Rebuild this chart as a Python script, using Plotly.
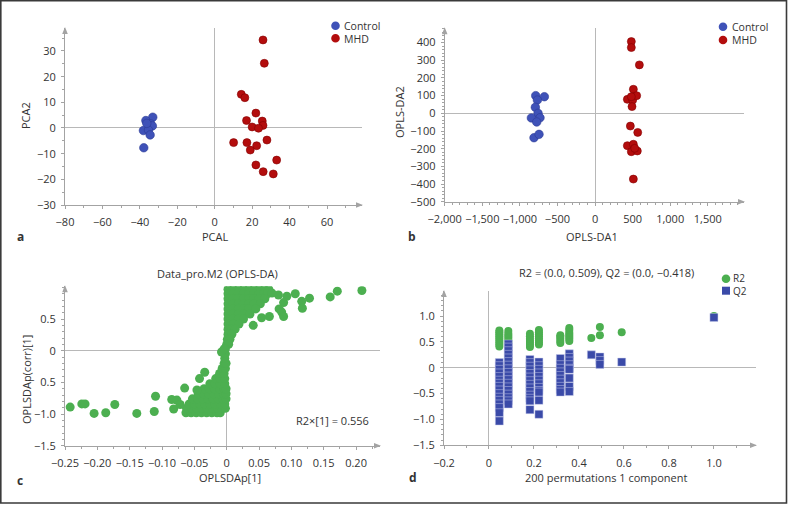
import plotly.graph_objects as go

W, H = 788, 506

# ---------------- Panel a : PCA scores ----------------
pca_ctrl_x = [-33.1, -36.8, -34.2, -34.7, -33.3, -38.1, -35.4, -34.5, -37.9, -36.3]
pca_ctrl_y = [4.2, 2.9, 1.6, 0.8, 0.8, -1.0, -0.8, -2.7, -7.7, 1.8]
pca_mhd_x = [25.8, 26.5, 14.2, 16.1, 22.0, 17.0, 25.4, 20.0, 25.8, 23.4,
             10.1, 17.2, 27.9, 22.4, 19.0, 33.1, 22.0, 25.9, 31.3]
pca_mhd_y = [34.3, 25.2, 13.1, 11.8, 5.8, 2.9, 2.7, 0.4, 1.0, -0.1,
             -5.7, -5.7, -4.7, -6.9, -8.6, -12.5, -14.4, -17.0, -17.9]
a_xticks = [-80, -60, -40, -20, 0, 20, 40, 60]
a_yticks = [-30, -20, -10, 0, 10, 20, 30]

# ---------------- Panel b : OPLS-DA scores ----------------
opls_ctrl_x = [-789, -674, -767, -794, -758, -847, -732, -776, -812, -745]
opls_ctrl_y = [100, 94, 75, 34, 0, -26, -25, -49, -138, -119]
opls_mhd_x = [483, 483, 590, 510, 430, 501, 554, 483, 492, 470,
              568, 430, 510, 483, 563, 510, 528]
opls_mhd_y = [406, 372, 274, 136, 79, 75, 100, 94, 38, -72,
              -108, -183, -175, -217, -213, -372, -198]
b_xticks = [-2000, -1500, -1000, -500, 0, 500, 1000, 1500]
b_yticks = [-500, -400, -300, -200, -100, 0, 100, 200, 300, 400]

# ---------------- Panel c : S-plot (p[1] vs p(corr)[1]) ----------------
splot_pos_levels = [0.97, 0.90, 0.82, 0.74, 0.66, 0.58, 0.50, 0.42, 0.34, 0.26, 0.18, 0.10, 0.03]
splot_pos_p = [
    [0.002, 0.010, 0.018, 0.026, 0.034, 0.042, 0.050, 0.058, 0.065],
    [0.002, 0.010, 0.018, 0.026, 0.034, 0.042, 0.050, 0.057, 0.063],
    [0.002, 0.010, 0.018, 0.026, 0.034, 0.042, 0.050, 0.059],
    [0.002, 0.010, 0.018, 0.026, 0.034, 0.042, 0.052],
    [0.002, 0.010, 0.018, 0.026, 0.034, 0.045],
    [0.002, 0.010, 0.018, 0.026, 0.036],
    [0.002, 0.010, 0.018, 0.026],
    [0.002, 0.010, 0.019],
    [0.002, 0.008, 0.013],
    [0.002, 0.008],
    [0.001, 0.005],
    [0.000, 0.003],
    [-0.002],
]
splot_neg_levels = [-0.98, -0.91, -0.84, -0.76, -0.68, -0.60, -0.52, -0.44, -0.36, -0.28, -0.20, -0.12, -0.05]
splot_neg_p = [
    [-0.063, -0.055, -0.047, -0.039, -0.031, -0.023, -0.015, -0.010],
    [-0.062, -0.054, -0.046, -0.038, -0.030, -0.022, -0.014, -0.007, -0.002],
    [-0.058, -0.050, -0.042, -0.034, -0.026, -0.018, -0.010, -0.003],
    [-0.053, -0.045, -0.037, -0.029, -0.021, -0.013, -0.006, -0.001],
    [-0.044, -0.036, -0.028, -0.020, -0.012, -0.005, -0.001],
    [-0.035, -0.027, -0.019, -0.011, -0.004, -0.001],
    [-0.026, -0.018, -0.010, -0.003],
    [-0.017, -0.010, -0.003],
    [-0.011, -0.004],
    [-0.007, -0.002],
    [-0.004, -0.001],
    [-0.003],
    [-0.002],
]
splot_out_p = [-0.242, -0.224, -0.219, -0.205, -0.187, -0.173, -0.139, -0.112, -0.110,
               -0.085, -0.082, -0.077, -0.065, -0.072, -0.046, -0.042, -0.034, -0.008, -0.004,
               0.209, 0.171, 0.160, 0.128, 0.106, 0.116, 0.117, 0.088, 0.081, 0.085,
               0.088, 0.066, 0.054, 0.041, 0.093, 0.080, 0.070]
splot_out_pcorr = [-0.89, -0.84, -0.84, -0.99, -0.98, -0.85, -0.99, -0.96, -0.72,
                   -0.77, -0.92, -0.78, -0.59, -0.85, -0.62, -0.44, -0.34, -0.02, 0.03,
                   0.95, 0.94, 0.85, 0.83, 0.90, 0.78, 0.67, 0.76, 0.66, 0.61,
                   0.54, 0.54, 0.52, 0.40, 0.86, 0.88, 0.91]
c_xticks = [-0.25, -0.20, -0.15, -0.10, -0.05, 0, 0.05, 0.10, 0.15, 0.20]
c_xticktext = ["\u22120.25", "\u22120.20", "\u22120.15", "\u22120.10", "\u22120.05", "0",
               "0.05", "0.10", "0.15", "0.20"]
c_yticks = [0.5, 0, -0.5, -1.0, -1.5]
c_yticktext = ["0.5", "0", "0.5", "\u22121.0", "\u22121.5"]

# ---------------- Panel d : permutation test ----------------
perm_r2_x = [0.046] * 9 + [0.086] * 6 + [0.182] * 7 + [0.222] * 8 + [0.317] * 5 + [0.357] * 7 \
            + [0.455, 0.493, 0.493, 0.590, 1.0]
perm_r2_y = [0.41, 0.45, 0.49, 0.53, 0.57, 0.61, 0.65, 0.69, 0.72,
             0.50, 0.54, 0.58, 0.62, 0.66, 0.71,
             0.40, 0.44, 0.48, 0.52, 0.56, 0.61, 0.66,
             0.45, 0.49, 0.53, 0.57, 0.61, 0.65, 0.69, 0.73,
             0.48, 0.52, 0.56, 0.60, 0.63,
             0.52, 0.56, 0.60, 0.64, 0.68, 0.73, 0.77,
             0.575, 0.63, 0.79, 0.69, 1.0]
perm_q2_x = [0.046] * 16 + [0.086] * 18 + [0.182] * 14 + [0.222] * 12 + [0.317] * 10 + [0.357] * 9 \
            + [0.455, 0.493, 0.493, 0.493, 0.590, 1.0]
perm_q2_y = [0.10, 0.04, -0.03, -0.10, -0.17, -0.24, -0.30, -0.36, -0.43, -0.50, -0.57, -0.63, -0.70, -0.77, -0.87, -1.03,
             0.46, 0.40, 0.33, 0.26, 0.19, 0.12, 0.05, -0.02, -0.09, -0.16, -0.23, -0.30, -0.37, -0.44, -0.51, -0.58, -0.64, -0.70,
             0.16, 0.10, 0.03, -0.04, -0.11, -0.18, -0.25, -0.32, -0.39, -0.46, -0.53, -0.59, -0.64, -0.81,
             0.11, 0.04, -0.03, -0.10, -0.17, -0.24, -0.31, -0.38, -0.44, -0.47, -0.63, -0.90,
             0.18, 0.06, -0.01, -0.08, -0.15, -0.22, -0.29, -0.36, -0.42, -0.47,
             0.27, 0.20, 0.13, 0.06, -0.01, -0.03, -0.20, -0.36, -0.46,
             0.25, 0.21, 0.14, 0.065, 0.11, 0.975]
d_xticks = [-0.2, 0, 0.2, 0.4, 0.6, 0.8, 1.0]
d_xticktext = ["\u22120.2", "0", "0.2", "0.4", "0.6", "0.8", "1.0"]
d_yticks = [1.0, 0.5, 0, -0.5, -1.0, -1.5]
d_yticktext = ["1.0", "0.5", "0", "\u22120.5", "\u22121.0", "\u22121.5"]

# ---------------- styling ----------------
BLUE = "#3f52b8"
RED = "#b30d0d"
GREEN = "#4caf50"
QBLUE = "#3a4aa8"
AX = "#a3a3a3"
ZL = "#b8b8b8"
TXT = "#333333"
FONT = "Open Sans"


def X(px):
    return px / W


def Y(py):
    return 1 - py / H


splot_p = []
splot_pcorr = []
for lvl, row in zip(splot_pos_levels, splot_pos_p):
    splot_p += row
    splot_pcorr += [lvl] * len(row)
for lvl, row in zip(splot_neg_levels, splot_neg_p):
    splot_p += row
    splot_pcorr += [lvl] * len(row)
splot_p += splot_out_p
splot_pcorr += splot_out_pcorr

fig = go.Figure()

fig.add_trace(go.Scatter(x=pca_ctrl_x, y=pca_ctrl_y, mode="markers", name="Control",
                         marker=dict(size=8.5, color=BLUE, line=dict(width=0.6, color="#2c3b95")),
                         xaxis="x", yaxis="y", showlegend=False))
fig.add_trace(go.Scatter(x=pca_mhd_x, y=pca_mhd_y, mode="markers", name="MHD",
                         marker=dict(size=8, color=RED, line=dict(width=0.6, color="#850000")),
                         xaxis="x", yaxis="y", showlegend=False))
fig.add_trace(go.Scatter(x=opls_ctrl_x, y=opls_ctrl_y, mode="markers", name="Control",
                         marker=dict(size=8.5, color=BLUE, line=dict(width=0.6, color="#2c3b95")),
                         xaxis="x2", yaxis="y2", showlegend=False))
fig.add_trace(go.Scatter(x=opls_mhd_x, y=opls_mhd_y, mode="markers", name="MHD",
                         marker=dict(size=8, color=RED, line=dict(width=0.6, color="#850000")),
                         xaxis="x2", yaxis="y2", showlegend=False))
fig.add_trace(go.Scatter(x=splot_p, y=splot_pcorr, mode="markers", name="S-plot",
                         marker=dict(size=9, color=GREEN, line=dict(width=0)),
                         xaxis="x3", yaxis="y3", showlegend=False))
fig.add_trace(go.Scatter(x=perm_r2_x, y=perm_r2_y, mode="markers", name="R2",
                         marker=dict(size=8, color=GREEN, line=dict(width=0)),
                         xaxis="x4", yaxis="y4", showlegend=False))
fig.add_trace(go.Scatter(x=perm_q2_x, y=perm_q2_y, mode="markers", name="Q2",
                         marker=dict(size=8, symbol="square", color=QBLUE,
                                     line=dict(width=0.6, color="rgba(200,205,235,0.8)")),
                         xaxis="x4", yaxis="y4", showlegend=False))


def axis(dom, rng, anchor, tickvals, ticktext=None, minor_dtick=None, fmt=None, standoff=3):
    d = dict(domain=dom, range=rng, anchor=anchor, showline=True, linecolor=AX, linewidth=1,
             ticks="outside", ticklen=3, tickcolor=AX, tickwidth=1, showgrid=False,
             zeroline=True, zerolinecolor=ZL, zerolinewidth=1, automargin=False,
             tickfont=dict(size=11, color=TXT, family=FONT), tickmode="array",
             tickvals=tickvals, ticklabelstandoff=standoff, fixedrange=True)
    if ticktext is not None:
        d["ticktext"] = ticktext
    if fmt is not None:
        d["tickformat"] = fmt
    if minor_dtick is not None:
        d["minor"] = dict(ticks="outside", ticklen=2, tickcolor=AX, dtick=minor_dtick, showgrid=False)
    return d


# pixel boxes of the four plot areas
A = (65, 362, 28, 205)
B = (444.7, 744, 28.3, 201.7)
C = (65, 380, 286.3, 445.7)
D = (444, 756, 291, 445.3)

layout = dict(
    width=W, height=H, margin=dict(l=0, r=0, t=0, b=0),
    paper_bgcolor="white", plot_bgcolor="rgba(0,0,0,0)",
    font=dict(family=FONT, size=11, color=TXT),
    showlegend=False,
    xaxis=axis([X(A[0]), X(A[1])], [-80, 78.7], "y", a_xticks, minor_dtick=10, standoff=4),
    yaxis=axis([Y(A[3]), Y(A[2])], [-30, 38.95], "x", a_yticks, minor_dtick=5),
    xaxis2=axis([X(B[0]), X(B[1])], [-2000, 1982], "y2", b_xticks, minor_dtick=100, fmt=",", standoff=4),
    yaxis2=axis([Y(B[3]), Y(B[2])], [-500, 481], "x2", b_yticks, minor_dtick=20),
    xaxis3=axis([X(C[0]), X(C[1])], [-0.25, 0.237], "y3", c_xticks, c_xticktext, minor_dtick=0.025, standoff=4),
    yaxis3=axis([Y(C[3]), Y(C[2])], [-1.5, 1.017], "x3", c_yticks, c_yticktext, minor_dtick=0.1),
    xaxis4=axis([X(D[0]), X(D[1])], [-0.2, 1.187], "y4", d_xticks, d_xticktext, minor_dtick=0.1, standoff=4),
    yaxis4=axis([Y(D[3]), Y(D[2])], [-1.5, 1.486], "x4", d_yticks, d_yticktext, minor_dtick=0.1),
)

shapes = []
# outer frame
shapes.append(dict(type="rect", xref="paper", yref="paper", x0=X(0.8), x1=X(786.5), y0=Y(503), y1=Y(0.8),
                   line=dict(color="#3a3a3a", width=1.6), fillcolor="rgba(0,0,0,0)", layer="above"))
# axis arrowheads
for (x0, x1, y0, y1) in (A, B, C, D):
    shapes.append(dict(type="path", xref="paper", yref="paper",
                       path=f"M {X(x0)} {Y(y0 - 1)} L {X(x0 - 2.8)} {Y(y0 + 6)} L {X(x0 + 2.8)} {Y(y0 + 6)} Z",
                       fillcolor=AX, line=dict(width=0)))
    shapes.append(dict(type="path", xref="paper", yref="paper",
                       path=f"M {X(x1 + 1)} {Y(y1)} L {X(x1 - 6)} {Y(y1 - 2.8)} L {X(x1 - 6)} {Y(y1 + 2.8)} Z",
                       fillcolor=AX, line=dict(width=0)))


def legend_marker(cx, cy, color, square=False, r=4.3):
    shapes.append(dict(type="rect" if square else "circle", xref="paper", yref="paper",
                       x0=X(cx - r), x1=X(cx + r), y0=Y(cy + r), y1=Y(cy - r),
                       fillcolor=color, line=dict(width=0)))


legend_marker(335.5, 25.7, BLUE)
legend_marker(335.5, 38.3, RED)
legend_marker(723, 26.7, BLUE)
legend_marker(723, 40, RED)
legend_marker(726, 278.7, GREEN)
legend_marker(726, 290.7, QBLUE, square=True, r=4)

ann = []


def text(x, y, s, size=11, angle=0, xanchor="center", bold=False):
    ann.append(dict(xref="paper", yref="paper", x=X(x), y=Y(y), text=f"<b>{s}</b>" if bold else s,
                    showarrow=False, xanchor=xanchor, yanchor="middle", textangle=angle,
                    font=dict(size=size, color=TXT, family=FONT)))


# legends
text(341.5, 25.5, "Control", size=10.5, xanchor="left")
text(341.5, 38.5, "MHD", size=10.5, xanchor="left")
text(730, 26.5, "Control", size=10.5, xanchor="left")
text(730, 40.2, "MHD", size=10.5, xanchor="left")
text(731, 278.0, "R2", size=10, xanchor="left")
text(731, 291.4, "Q2", size=10, xanchor="left")
# axis titles
text(25, 116, "PCA2", angle=-90)
text(215, 237, "PCAL")
text(399, 112, "OPLS-DA2", angle=-90)
text(592, 237, "OPLS-DA1")
text(26, 380, "OPLSDAp(corr)[1]", angle=-90)
text(230, 477, "OPLSDAp[1]")
text(606, 477, "200 permutations 1 component")
# titles and notes
text(217, 273, "Data_pro.M2 (OPLS-DA)")
text(332.5, 420, "R2\u00d7[1] = 0.556")
text(606.5, 272, "R2 = (0.0, 0.509), Q2 = (0.0, \u22120.418)")
# panel letters
text(20, 237, "a", size=12, bold=True)
text(412, 237, "b", size=12, bold=True)
text(20, 480, "c", size=12, bold=True)
text(413, 477, "d", size=12, bold=True)

layout["shapes"] = shapes
layout["annotations"] = ann
fig.update_layout(**layout)

fig.write_html("out.html", config={"displayModeBar": False},
               post_script="document.body.style.margin='0';document.body.style.padding='0';")
